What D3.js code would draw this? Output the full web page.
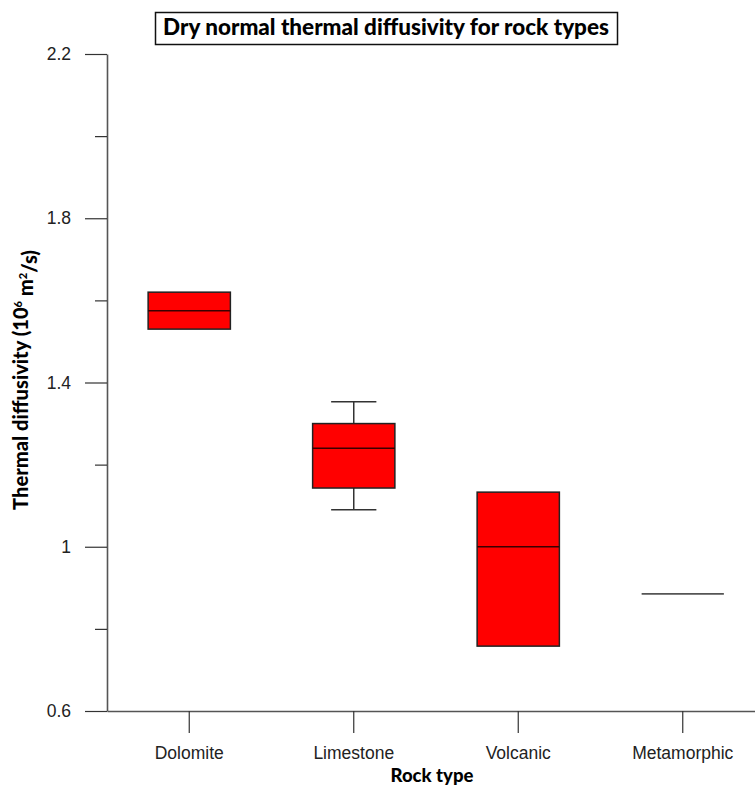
<!DOCTYPE html>
<html>
<head>
<meta charset="utf-8">
<script src="https://cdn.jsdelivr.net/npm/d3@7"></script>
<style>
  html, body { margin: 0; padding: 0; background: #fff; }
  svg { display: block; }
</style>
</head>
<body>
<svg id="chart" width="755" height="790"></svg>
<script>
// Rock types and box-plot statistics (thermal diffusivity, 10^-6 m²/s)
const categories = ["Dolomite", "Limestone", "Volcanic", "Metamorphic"];
const lowerWhisker = [1.53, 1.09, 0.758, 0.885];
const q1 = [1.53, 1.143, 0.758, 0.885];
const median = [1.575, 1.24, 1.0, 0.885];
const q3 = [1.62, 1.30, 1.133, 0.885];
const upperWhisker = [1.62, 1.353, 1.133, 0.885];

const majorTicks = [0.6, 1.0, 1.4, 1.8, 2.2];
const minorTicks = [0.8, 1.2, 1.6, 2.0];

const titleText = "Dry normal thermal diffusivity for rock types";
const xTitle = "Rock type";

const svg = d3.select("#chart");

const plot = { left: 107, right: 765, top: 54, bottom: 711 };

const x = d3.scaleBand()
  .domain(categories)
  .range([plot.left, plot.right])
  .paddingInner(0.5)
  .paddingOuter(0.25);

const y = d3.scaleLinear()
  .domain([0.6, 2.2])
  .range([plot.bottom, plot.top]);

const rows = categories.map((c, i) => ({
  cat: c, lo: lowerWhisker[i], q1: q1[i], med: median[i], q3: q3[i], hi: upperWhisker[i]
}));

// Y axis: labelled major ticks and shorter minor ticks
const yMajor = svg.append("g")
  .attr("transform", `translate(${plot.left},0)`)
  .call(d3.axisLeft(y).tickValues(majorTicks).tickSize(22).tickSizeOuter(0)
    .tickPadding(14).tickFormat(d3.format("~g")));
const yMinor = svg.append("g")
  .attr("transform", `translate(${plot.left},0)`)
  .call(d3.axisLeft(y).tickValues(minorTicks).tickSize(12).tickSizeOuter(0).tickFormat(""));
yMinor.select(".domain").remove();

// X axis
const xAxis = svg.append("g")
  .attr("transform", `translate(0,${plot.bottom})`)
  .call(d3.axisBottom(x).tickSize(22).tickSizeOuter(0).tickPadding(14));

[yMajor, yMinor, xAxis].forEach(g => {
  g.selectAll(".domain").attr("stroke", "#555").attr("stroke-width", 1.6);
  g.selectAll(".tick line").attr("stroke", "#333").attr("stroke-width", 1.2);
  g.selectAll(".tick text")
    .attr("fill", "#222")
    .style("font-family", "'Liberation Sans', Arial, sans-serif")
    .style("font-size", "17.5px");
});

// Box plots
const boxes = svg.append("g");
const bw = x.bandwidth();
const capW = bw * 0.55;

rows.forEach(d => {
  const cx = x(d.cat) + bw / 2;
  const g = boxes.append("g");
  // whiskers
  if (d.hi > d.q3) {
    g.append("line").attr("x1", cx).attr("x2", cx).attr("y1", y(d.q3)).attr("y2", y(d.hi))
      .attr("stroke", "#333").attr("stroke-width", 1.5);
    g.append("line").attr("x1", cx - capW / 2).attr("x2", cx + capW / 2)
      .attr("y1", y(d.hi)).attr("y2", y(d.hi)).attr("stroke", "#333").attr("stroke-width", 1.5);
  }
  if (d.lo < d.q1) {
    g.append("line").attr("x1", cx).attr("x2", cx).attr("y1", y(d.q1)).attr("y2", y(d.lo))
      .attr("stroke", "#333").attr("stroke-width", 1.5);
    g.append("line").attr("x1", cx - capW / 2).attr("x2", cx + capW / 2)
      .attr("y1", y(d.lo)).attr("y2", y(d.lo)).attr("stroke", "#333").attr("stroke-width", 1.5);
  }
  if (d.q3 > d.q1) {
    g.append("rect")
      .attr("x", x(d.cat)).attr("width", bw)
      .attr("y", y(d.q3)).attr("height", y(d.q1) - y(d.q3))
      .attr("fill", "#ff0000").attr("stroke", "#222").attr("stroke-width", 1.5);
    g.append("line").attr("x1", x(d.cat)).attr("x2", x(d.cat) + bw)
      .attr("y1", y(d.med)).attr("y2", y(d.med))
      .attr("stroke", "#3a0000").attr("stroke-width", 1.5);
  } else {
    // collapsed box: all statistics coincide
    g.append("line").attr("x1", x(d.cat)).attr("x2", x(d.cat) + bw)
      .attr("y1", y(d.med)).attr("y2", y(d.med))
      .attr("stroke", "#555").attr("stroke-width", 1.8);
  }
});

// Fit a text element to a target width by adjusting its font size
function fitWidth(sel, target) {
  const n = sel.node();
  const fs = parseFloat(sel.style("font-size"));
  const w = n.getComputedTextLength();
  if (w > 0) sel.style("font-size", (fs * target / w) + "px");
}

// Title in a framed box
svg.append("rect")
  .attr("x", 155.5).attr("y", 12.5).attr("width", 462).attr("height", 32)
  .attr("fill", "#fff").attr("stroke", "#111").attr("stroke-width", 1.5);
const title = svg.append("text")
  .attr("x", 386).attr("y", 35)
  .attr("text-anchor", "middle")
  .style("font-family", "Lato, 'Open Sans', sans-serif")
  .style("font-weight", "900")
  .style("font-size", "20px")
  .attr("fill", "#000")
  .text(titleText);
fitWidth(title, 446);

// X axis title
const xt = svg.append("text")
  .attr("x", 432).attr("y", 782)
  .attr("text-anchor", "middle")
  .style("font-family", "Lato, 'Open Sans', sans-serif")
  .style("font-weight", "900")
  .style("font-size", "18px")
  .attr("fill", "#000")
  .text(xTitle);
fitWidth(xt, 83);

// Y axis title with superscripts
const yt = svg.append("text")
  .attr("transform", "translate(28,380) rotate(-90)")
  .attr("text-anchor", "middle")
  .style("font-family", "Lato, 'Open Sans', sans-serif")
  .style("font-weight", "900")
  .style("font-size", "17px")
  .attr("fill", "#000");
yt.append("tspan").text("Thermal diffusivity (10");
yt.append("tspan").attr("dy", "-0.5em").style("font-size", "0.55em").text("6");
yt.append("tspan").attr("dy", "0.5em").text(" m");
yt.append("tspan").attr("dy", "-0.5em").style("font-size", "0.55em").text("2");
yt.append("tspan").attr("dy", "0.5em").text("/s)");
fitWidth(yt, 260);
</script>
</body>
</html>
